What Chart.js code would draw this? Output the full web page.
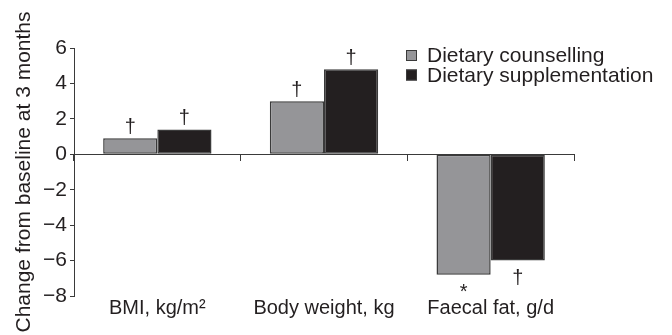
<!DOCTYPE html>
<html>
<head>
<meta charset="utf-8">
<script src="https://cdn.jsdelivr.net/npm/chart.js@4"></script>
<style>
  html, body { margin: 0; padding: 0; background: #ffffff; }
  canvas { display: block; }
</style>
</head>
<body>
<canvas id="chart" width="672" height="335"></canvas>
<script>
// Change from baseline at 3 months, by outcome and intervention
const categories = ['BMI, kg/m²', 'Body weight, kg', 'Faecal fat, g/d'];
const seriesNames = ['Dietary counselling', 'Dietary supplementation'];
const counselling = [0.9, 3.0, -6.8];
const supplementation = [1.4, 4.8, -6.0];
// significance symbols printed beside each bar
const counsellingMarks = ['†', '†', '*'];
const supplementationMarks = ['†', '†', '†'];
const yTicks = [6, 4, 2, 0, -2, -4, -6, -8];

const INK = '#231f20';
const AXIS = '#3a3a3a';
const GREY = '#959598';
const BLACK = '#231f20';
const FONT = "'Liberation Sans', Arial, Helvetica, sans-serif";

const fmt = v => (v < 0 ? '\u2212' + Math.abs(v) : String(v));

// symbols above positive bars, below negative bars
const marksPlugin = {
  id: 'sigMarks',
  afterDatasetsDraw(chart) {
    const ctx = chart.ctx;
    ctx.save();
    ctx.font = '20px ' + FONT;
    ctx.fillStyle = INK;
    ctx.textAlign = 'center';
    ctx.textBaseline = 'alphabetic';
    [counsellingMarks, supplementationMarks].forEach((marks, di) => {
      const values = chart.data.datasets[di].data;
      chart.getDatasetMeta(di).data.forEach((bar, i) => {
        const y = values[i] >= 0 ? bar.y - 5 : bar.y + 23;
        ctx.fillText(marks[i], bar.x, y);
      });
    });
    ctx.restore();
  }
};

// boxed legend in the upper right corner
const legendPlugin = {
  id: 'cornerLegend',
  afterDraw(chart) {
    const ctx = chart.ctx;
    const box = 11, left = 406, top = 50, rowGap = 19.5;
    ctx.save();
    ctx.font = '21px ' + FONT;
    ctx.textAlign = 'left';
    ctx.textBaseline = 'alphabetic';
    chart.data.datasets.forEach((ds, i) => {
      const y = top + i * rowGap;
      ctx.fillStyle = ds.backgroundColor;
      ctx.fillRect(left, y, box, box);
      ctx.strokeStyle = AXIS;
      ctx.lineWidth = 1;
      ctx.strokeRect(left + 0.5, y + 0.5, box - 1, box - 1);
      ctx.fillStyle = INK;
      ctx.fillText(ds.label, left + 21, y + box + 1);
    });
    ctx.restore();
  }
};

new Chart(document.getElementById('chart'), {
  type: 'bar',
  data: {
    labels: categories,
    datasets: [
      {
        label: seriesNames[0],
        data: counselling,
        backgroundColor: GREY,
        borderColor: AXIS,
        borderWidth: 1.5,
        borderSkipped: false,
        xAxisID: 'x'
      },
      {
        label: seriesNames[1],
        data: supplementation,
        backgroundColor: BLACK,
        borderColor: AXIS,
        borderWidth: 1.5,
        borderSkipped: false,
        xAxisID: 'x'
      }
    ]
  },
  options: {
    responsive: false,
    devicePixelRatio: 1,
    animation: false,
    categoryPercentage: 0.65,
    barPercentage: 1.0,
    layout: { padding: { top: 48, right: 98, bottom: 15, left: 0 } },
    plugins: {
      legend: { display: false },
      tooltip: { enabled: false }
    },
    scales: {
      x: {
        position: { y: 0 },
        offset: true,
        grid: { offset: true, drawOnChartArea: false, drawTicks: true, tickLength: 6, color: AXIS, lineWidth: 1 },
        border: { display: true, color: AXIS, width: 1 },
        ticks: { display: false }
      },
      xLabels: {
        type: 'category',
        position: 'bottom',
        offset: true,
        grid: { display: false, drawTicks: false },
        border: { display: false },
        ticks: {
          color: INK,
          font: { family: FONT, size: 20 },
          padding: 0,
          maxRotation: 0,
          autoSkip: false
        }
      },
      y: {
        min: -8,
        max: 6,
        afterBuildTicks: s => { s.ticks = yTicks.map(v => ({ value: v })); },
        afterFit: s => { s.width = 74; },
        grid: { drawOnChartArea: false, drawTicks: true, tickLength: 4, color: AXIS, lineWidth: 1 },
        border: { display: true, color: AXIS, width: 1 },
        ticks: {
          color: INK,
          font: { family: FONT, size: 21 },
          padding: 3,
          callback: v => fmt(v)
        },
        title: {
          display: true,
          text: 'Change from baseline at 3 months',
          color: INK,
          font: { family: FONT, size: 21 },
          padding: { top: 12, bottom: 0 }
        }
      }
    }
  },
  plugins: [marksPlugin, legendPlugin]
});
</script>
</body>
</html>
